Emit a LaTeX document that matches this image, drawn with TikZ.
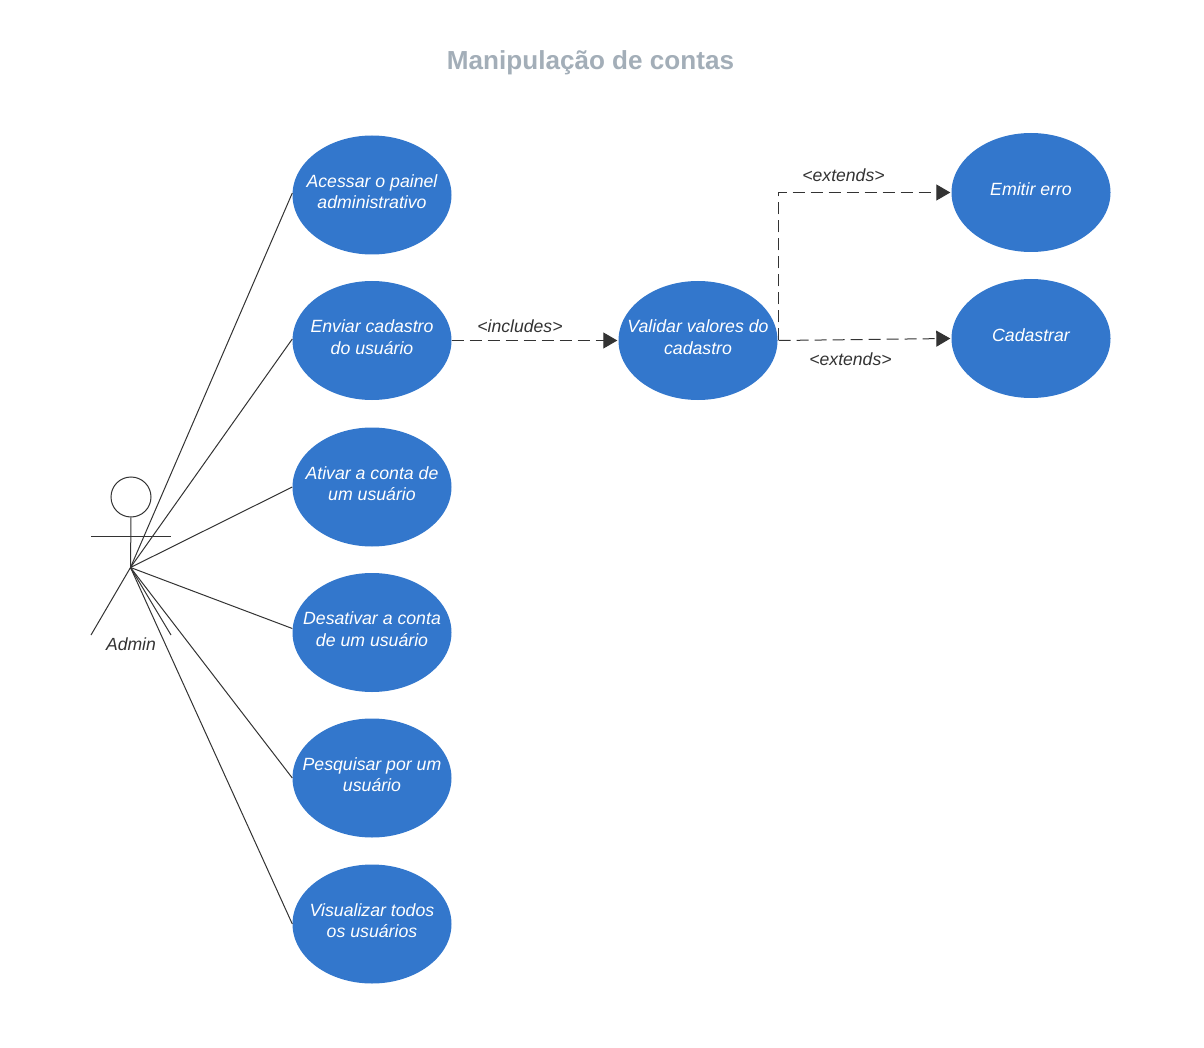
\documentclass[tikz,border=0pt]{standalone}
\usepackage{fontspec}
\setmainfont{Liberation Sans}
\usetikzlibrary{shapes.geometric,arrows.meta}
\definecolor{ucblue}{HTML}{3377CC}
\definecolor{inkc}{HTML}{333333}
\definecolor{titlec}{HTML}{A3AEB8}
\tikzset{
  uc/.style={ellipse,fill=ucblue,draw=none,minimum width=159pt,minimum height=119pt,inner sep=0pt},
  uctext/.style={inner sep=0pt,yshift=3.4pt,align=center,text=white,font=\fontsize{17.7}{21.2}\selectfont\itshape},
  lbl/.style={inner sep=0pt,text=inkc,font=\fontsize{17.6}{21}\selectfont\itshape},
  solidline/.style={draw=inkc,line width=1pt},
  dashline/.style={draw=inkc,line width=1pt,dash pattern=on 12pt off 6pt,-{Triangle[length=14pt,width=16pt,fill=inkc]}},
}
\begin{document}
\begin{tikzpicture}[x=1pt,y=-1pt]
\useasboundingbox (0,0) rectangle (1204,1048);
\node[inner sep=0pt,text=titlec,font=\fontsize{26.1}{31}\selectfont\bfseries] (title) at (590.5,62.5) {Manipulação de contas};
\node[uc,label={[uctext]center:Acessar o painel\\administrativo}] (a) at (372,195) {};
\node[uc,label={[uctext]center:Enviar cadastro\\do usuário}] (b) at (372,340.5) {};
\node[uc,label={[uctext]center:Ativar a conta de\\um usuário}] (c) at (372,487) {};
\node[uc,label={[uctext]center:Desativar a conta\\de um usuário}] (d) at (372,632.5) {};
\node[uc,label={[uctext]center:Pesquisar por um\\usuário}] (e) at (372,778) {};
\node[uc,label={[uctext]center:Visualizar todos\\os usuários}] (f) at (372,924) {};
\node[uc,label={[uctext]center:Validar valores do\\cadastro}] (v) at (698,340.5) {};
\node[uc,label={[uctext]center:Emitir erro}] (x) at (1031,192.5) {};
\node[uc,label={[uctext]center:Cadastrar}] (y) at (1031,338.5) {};
% actor
\node[circle,draw=inkc,line width=1pt,minimum size=40pt,inner sep=0pt] (head) at (131,497) {};
\coordinate (hub) at (130.5,567.5);
\coordinate (armL) at (91,536.5);
\coordinate (armR) at (171,536.5);
\coordinate (legL) at (91,635);
\coordinate (legR) at (171,635);
\draw[solidline] (head.south) -- (hub);
\draw[solidline] (armL) -- (armR);
\draw[solidline] (legL) -- (hub) -- (legR);
\node[lbl] (admin) at (131,644.5) {Admin};
\draw[solidline] (hub) -- ([yshift=2pt]a.west);
\draw[solidline] (hub) -- ([yshift=1.5pt]b.west);
\draw[solidline] (hub) -- (c.west);
\draw[solidline] (hub) -- ([yshift=4pt]d.west);
\draw[solidline] (hub) -- (e.west);
\draw[solidline] (hub) -- (f.west);
\draw[dashline] (b.east) -- ([xshift=-1pt]v.west);
\draw[dashline] ([xshift=1pt]v.east) |- ([xshift=-1pt]x.west);
\draw[dashline] ([xshift=1pt]v.east) -- ([xshift=-1pt]y.west);
\node[lbl] (l1) at (520,326) {<includes>};
\node[lbl] (l2) at (843.5,175.5) {<extends>};
\node[lbl] (l3) at (850.5,359) {<extends>};
\end{tikzpicture}
\end{document}
